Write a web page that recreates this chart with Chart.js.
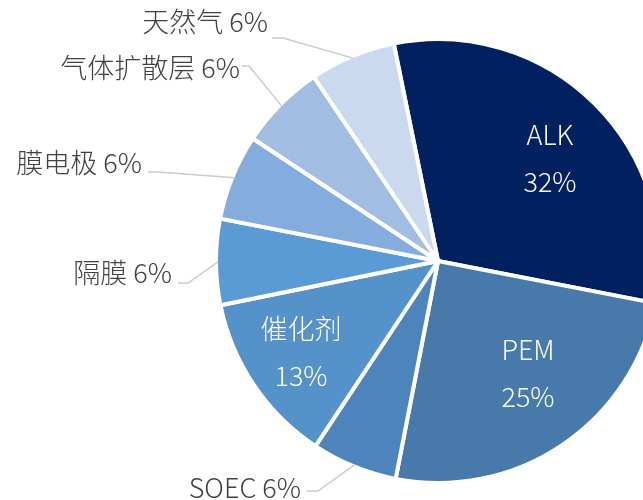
<!DOCTYPE html>
<html>
<head>
<meta charset="utf-8">
<script src="https://cdn.jsdelivr.net/npm/chart.js@4"></script>
<style>
	html, body { margin: 0; padding: 0; background: #fff; overflow: hidden; }
	#wrap { position: absolute; left: 0; top: 0; width: 658px; height: 500px; }
</style>
</head>
<body>
<div id="wrap"><canvas id="pie" width="658" height="500"></canvas></div>
<script>
// slice shares (slice angles), label text as printed
const categories = ['ALK', 'PEM', 'SOEC', '催化剂', '隔膜', '膜电极', '气体扩散层', '天然气'];
const shares = [5, 4, 1, 2, 1, 1, 1, 1];
const pctLabels = ['32%', '25%', '6%', '13%', '6%', '6%', '6%', '6%'];
const colors = ['#002060', '#477aab', '#4d84bb', '#5592c9', '#5b9bd5', '#84acdc', '#a2bde2', '#cad9ee'];

// where each label sits (inside: two lines centred; outside: right-aligned + leader elbow)
const labelLayout = [
	{ inside: true, x: 550, y: 158 },
	{ inside: true, x: 528, y: 373 },
	{ tx: 301, ty: 488, lx: 307, ly: 491, ex: 318 },
	{ inside: true, x: 301, y: 352 },
	{ tx: 172, ty: 273, lx: 178, ly: 283, ex: 188 },
	{ tx: 142, ty: 163, lx: 148, ly: 172, ex: 158 },
	{ tx: 240, ty: 68, lx: 242, ly: 66, ex: 249 },
	{ tx: 268, ty: 22, lx: 272, ly: 38, ex: 283 }
];

const FONT = '300 27px "Noto Sans CJK SC", "Noto Sans", sans-serif';

const pieLabels = {
	id: 'pieLabels',
	afterDraw(chart) {
		const ctx = chart.ctx;
		const arcs = chart.getDatasetMeta(0).data;
		ctx.save();
		ctx.font = FONT;
		ctx.textBaseline = 'middle';
		arcs.forEach((arc, i) => {
			const lay = labelLayout[i];
			if (lay.inside) {
				ctx.fillStyle = '#ffffff';
				ctx.textAlign = 'center';
				ctx.fillText(categories[i], lay.x, lay.y - 23.5);
				ctx.fillText(pctLabels[i], lay.x, lay.y + 23.5);
				return;
			}
			const mid = (arc.startAngle + arc.endAngle) / 2;
			const r = arc.outerRadius - 2;
			const px = arc.x + Math.cos(mid) * r;
			const py = arc.y + Math.sin(mid) * r;
			ctx.strokeStyle = '#cbcbcb';
			ctx.lineWidth = 1.5;
			ctx.beginPath();
			ctx.moveTo(lay.lx, lay.ly);
			ctx.lineTo(lay.ex, lay.ly);
			ctx.lineTo(px, py);
			ctx.stroke();
			ctx.fillStyle = '#404040';
			ctx.textAlign = 'right';
			ctx.fillText(categories[i] + ' ' + pctLabels[i], lay.tx, lay.ty);
		});
		ctx.restore();
	}
};

new Chart(document.getElementById('pie'), {
	type: 'pie',
	data: {
		labels: categories,
		datasets: [{
			data: shares,
			backgroundColor: colors,
			borderColor: '#ffffff',
			borderWidth: 4
		}]
	},
	options: {
		responsive: false,
		animation: false,
		rotation: -11.5,
		radius: 222,
		layout: { padding: { left: 218, top: 41, right: 0, bottom: 19 } },
		plugins: {
			legend: { display: false },
			tooltip: { enabled: false }
		}
	},
	plugins: [pieLabels]
});
</script>
</body>
</html>
